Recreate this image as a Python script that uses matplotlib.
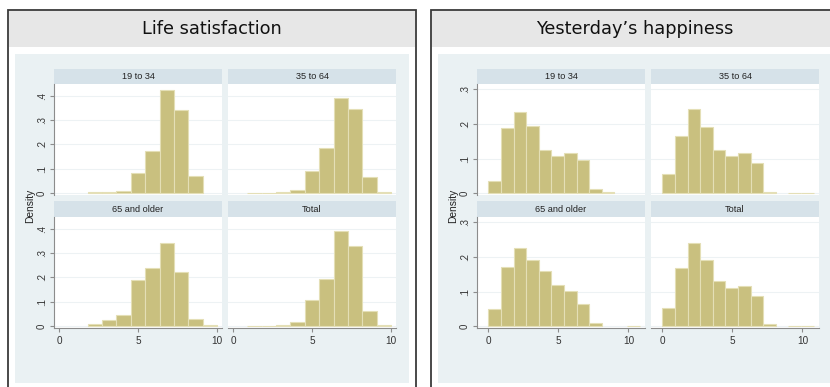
import numpy as np
import matplotlib.pyplot as plt
from matplotlib.patches import Rectangle

W, H = 830, 387

groups = ["19 to 34", "35 to 64", "65 and older", "Total"]

# Life satisfaction (0-10), histogram densities, 11 bins of width 10/11
life_bin_width = 10 / 11
life_19_34 = [0, 0, 0.003, 0.003, 0.008, 0.081, 0.175, 0.425, 0.342, 0.071, 0]
life_35_64 = [0, 0.002, 0.002, 0.005, 0.011, 0.091, 0.186, 0.393, 0.348, 0.066, 0.003]
life_65_up = [0, 0, 0.010, 0.026, 0.044, 0.190, 0.240, 0.340, 0.221, 0.031, 0.003]
life_total = [0, 0.002, 0.001, 0.006, 0.016, 0.107, 0.193, 0.390, 0.329, 0.062, 0.003]

# Yesterday's happiness (0-10), histogram densities, 12 bins of width 0.9
happy_bin_width = 0.9
happy_19_34 = [0.035, 0.187, 0.234, 0.195, 0.125, 0.108, 0.115, 0.096, 0.011, 0.003, 0, 0]
happy_35_64 = [0.056, 0.165, 0.244, 0.191, 0.125, 0.106, 0.117, 0.088, 0.004, 0, 0.002, 0.002]
happy_65_up = [0.050, 0.172, 0.227, 0.191, 0.159, 0.119, 0.103, 0.065, 0.008, 0, 0, 0.002]
happy_total = [0.053, 0.169, 0.240, 0.192, 0.130, 0.109, 0.115, 0.086, 0.006, 0, 0.002, 0.002]

life_yticks = [0, 0.1, 0.2, 0.3, 0.4]
life_yticklabels = ["0", ".1", ".2", ".3", ".4"]
happy_yticks = [0, 0.1, 0.2, 0.3]
happy_yticklabels = ["0", ".1", ".2", ".3"]
xticks = [0, 5, 10]

BAR = "#c9c07f"
BAR_EDGE = "#e4dfb6"
GRAPH_BG = "#eaf1f3"
STRIP = "#d6e2e9"
HEADER = "#e7e7e7"
GRID = "#edf2f4"
AXIS = "#8c8c8c"
SMALL = "Liberation Sans"


def fig_rect(x0, y0, x1, y1):
    return [x0 / W, 1 - y1 / H, (x1 - x0) / W, (y1 - y0) / H]


def add_box(fig, x0, y0, x1, y1, **kw):
    r = fig_rect(x0, y0, x1, y1)
    fig.add_artist(Rectangle((r[0], r[1]), r[2], r[3], zorder=-1,
                             transform=fig.transFigure, **kw))


def draw_panel(fig, x, title, series, bin_width, xlim, ylim, yticks, yticklabels):
    # outer frame + title band
    add_box(fig, x, 10, x + 408, 400, facecolor="white",
            edgecolor="#3a3a3a", linewidth=1.3)
    add_box(fig, x + 1, 11, x + 407, 47, facecolor=HEADER, edgecolor="none")
    fig.text((x + 204) / W, 1 - 29 / H, title, ha="center", va="center",
             fontsize=12.8, color="#111111", family="DejaVu Sans")

    # stata graph region
    add_box(fig, x + 7, 54, x + 401, 383, facecolor=GRAPH_BG, edgecolor="none")

    cols = [x + 46, x + 220]
    strips = [(68.5, 84), (201.5, 217)]
    plots = [(84, 195), (217, 328)]
    n = len(series[0])
    edges = np.arange(n) * bin_width

    for i, (name, vals) in enumerate(zip(groups, series)):
        row, col = divmod(i, 2)
        cx0, cx1 = cols[col], cols[col] + 168
        sy0, sy1 = strips[row]
        add_box(fig, cx0, sy0, cx1, sy1, facecolor=STRIP, edgecolor="none")
        fig.text((cx0 + cx1) / 2 / W, 1 - (sy0 + sy1) / 2 / H, name,
                 ha="center", va="center", fontsize=6.6, family=SMALL,
                 color="#222222")

        py0, py1 = plots[row]
        ax = fig.add_axes(fig_rect(cx0, py0, cx1, py1))
        ax.set_facecolor("white")
        vals = np.asarray(vals)
        shown = vals > 0
        ax.bar(edges[shown], vals[shown], width=bin_width, align="edge",
               color=BAR, edgecolor=BAR_EDGE, linewidth=0.8, zorder=2)
        ax.set_xlim(*xlim)
        ax.set_ylim(*ylim)
        ax.set_yticks(yticks)
        ax.set_xticks(xticks)
        ax.yaxis.grid(True, color=GRID, linewidth=0.8)
        ax.set_axisbelow(True)
        for s in ax.spines.values():
            s.set_visible(False)
        ax.tick_params(colors=AXIS, length=3, width=0.8, labelcolor="#333333")

        if col == 0:
            ax.spines["left"].set_visible(True)
            ax.spines["left"].set_color(AXIS)
            ax.set_yticklabels(yticklabels, rotation=90, ha="right",
                               va="center", fontsize=6.9, family=SMALL)
            ax.tick_params(axis="y", pad=2)
        else:
            ax.tick_params(axis="y", left=False, labelleft=False)

        if row == 1:
            ax.spines["bottom"].set_visible(True)
            ax.spines["bottom"].set_color(AXIS)
            ax.set_xticklabels([str(t) for t in xticks], fontsize=7.2,
                               family=SMALL)
            ax.tick_params(axis="x", pad=3)
        else:
            ax.tick_params(axis="x", bottom=False, labelbottom=False)

    fig.text((x + 22.5) / W, 1 - 206 / H, "Density", rotation=90,
             ha="center", va="center", fontsize=7.4, family=SMALL,
             color="#222222")


fig = plt.figure(figsize=(W / 100, H / 100), dpi=100)
fig.patch.set_facecolor("white")

draw_panel(fig, 8, "Life satisfaction",
           [life_19_34, life_35_64, life_65_up, life_total],
           life_bin_width, (-0.32, 10.32), (-0.008, 0.449),
           life_yticks, life_yticklabels)

draw_panel(fig, 431, "Yesterday\u2019s happiness",
           [happy_19_34, happy_35_64, happy_65_up, happy_total],
           happy_bin_width, (-0.82, 11.18), (-0.005, 0.315),
           happy_yticks, happy_yticklabels)

fig.savefig("out.png", dpi=100)
